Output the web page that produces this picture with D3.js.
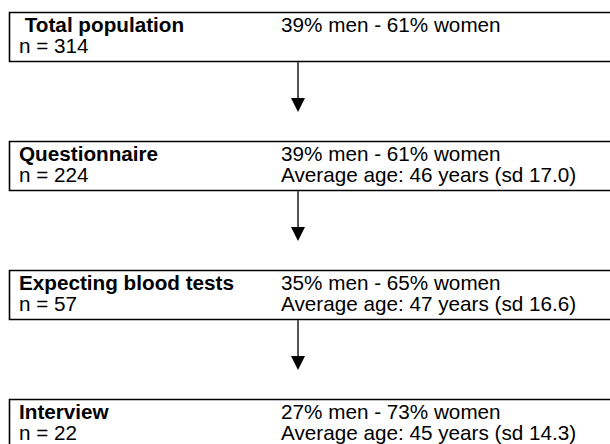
<!DOCTYPE html>
<html>
<head>
<meta charset="utf-8">
<script src="https://cdn.jsdelivr.net/npm/d3@7"></script>
<style>
  body { margin: 0; background: #fff; }
  text { font-family: "Liberation Sans", Arial, sans-serif; }
</style>
</head>
<body>
<script>
// flow stages, top to bottom
const stages = [" Total population", "Questionnaire", "Expecting blood tests", "Interview"]
const counts = [314, 224, 57, 22]
const menPct = [39, 39, 35, 27]
const womenPct = [61, 61, 65, 73]
const avgAge = [null, 46, 47, 45]
const ageSd = [null, "17.0", "16.6", "14.3"]

const width = 610
const height = 444
const boxH = 49
const fontSize = 20.7

const svg = d3.select("body").append("svg")
    .attr("width", width)
    .attr("height", height)

const y = d3.scalePoint()
    .domain(stages)
    .range([12, 399])

const rows = stages.map((s, i) => ({
    stage: s, n: counts[i], men: menPct[i], women: womenPct[i],
    age: avgAge[i], sd: ageSd[i]
}))

const g = svg.selectAll("g.stage")
    .data(rows)
    .join("g")
        .attr("class", "stage")
        .attr("transform", d => `translate(0,${y(d.stage)})`)

// box: left, top and bottom edges, runs off the right side
g.append("path")
    .attr("d", `M${width + 5},0.5H9.5V${boxH}.5H${width + 5}`)
    .attr("fill", "none")
    .attr("stroke", "#000")
    .attr("stroke-width", 1.6)

g.append("text")
    .attr("x", 19)
    .attr("y", 20)
    .attr("font-size", fontSize)
    .attr("font-weight", "bold")
    .attr("xml:space", "preserve")
    .style("white-space", "pre")
    .text(d => d.stage)

g.append("text")
    .attr("x", 19)
    .attr("y", 41)
    .attr("font-size", fontSize)
    .text(d => `n = ${d.n}`)

g.append("text")
    .attr("x", 281)
    .attr("y", 20)
    .attr("font-size", fontSize)
    .text(d => `${d.men}% men - ${d.women}% women`)

g.filter(d => d.age != null).append("text")
    .attr("x", 281)
    .attr("y", 41)
    .attr("font-size", fontSize)
    .text(d => `Average age: ${d.age} years (sd ${d.sd})`)

// arrows between stages
const arrowX = 298
const pairs = d3.pairs(stages)

const arrows = svg.selectAll("g.arrow")
    .data(pairs)
    .join("g")
        .attr("class", "arrow")

arrows.append("line")
    .attr("x1", arrowX).attr("x2", arrowX)
    .attr("y1", d => y(d[0]) + boxH + 1)
    .attr("y2", d => y(d[1]) - 42)
    .attr("stroke", "#555")
    .attr("stroke-width", 2)

arrows.append("path")
    .attr("d", d => {
        const tip = y(d[1]) - 29
        return `M${arrowX - 7},${tip - 14}L${arrowX + 7},${tip - 14}L${arrowX},${tip}Z`
    })
    .attr("fill", "#000")
</script>
</body>
</html>
